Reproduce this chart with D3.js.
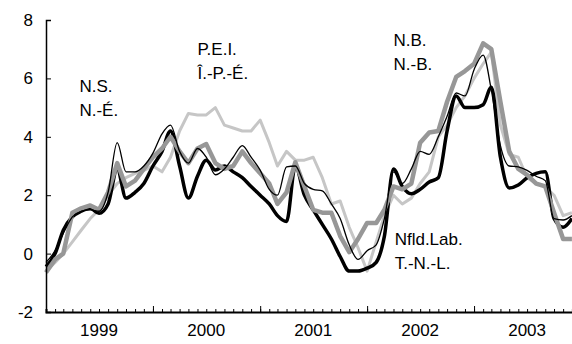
<!DOCTYPE html>
<html>
<head>
<meta charset="utf-8">
<script src="https://cdn.jsdelivr.net/npm/d3@7"></script>
<style>
  body { margin: 0; background: #fff; }
  text { font-family: "Liberation Sans", Arial, sans-serif; fill: #000; }
</style>
</head>
<body>
<div id="chart"></div>
<script>
// monthly values, Jan 1999 .. Dec 2003
var nfld = [-0.45, 0.0, 0.8, 1.26, 1.45, 1.55, 1.38, 1.7, 2.9, 1.9, 2.1, 2.4,
            3.0, 3.5, 4.2, 3.0, 1.9, 2.65, 3.2, 2.86, 3.0, 2.8, 2.6, 2.3,
            2.0, 1.7, 1.3, 1.1, 3.0, 2.0, 1.5, 1.0, 0.5, -0.1, -0.6, -0.6,
            -0.5, -0.3, 0.6, 2.9, 2.3, 2.05, 2.2, 2.45, 2.6, 4.2, 5.4, 5.0,
            5.0, 5.1, 5.7, 3.3, 2.25, 2.35, 2.6, 2.75, 2.8, 1.2, 0.9, 1.2];
var ns = [-0.3, 0.1, 0.7, 1.26, 1.45, 1.5, 1.45, 2.1, 3.8, 2.8, 2.8, 3.0,
          3.44, 4.1, 4.4, 3.5, 3.1, 3.6, 3.3, 2.7, 2.9, 3.3, 3.7, 3.3,
          2.86, 2.2, 2.0, 2.97, 3.0, 2.4, 2.2, 2.15, 1.7, 1.2, 0.3, -0.2,
          0.1, 0.3, 1.2, 2.8, 2.4, 2.9, 3.5, 3.4, 4.0, 4.7, 5.5, 5.4,
          6.3, 6.8, 5.6, 3.7, 3.0, 2.97, 2.85, 2.65, 2.5, 1.2, 1.15, 1.3];
var pei = [-0.6, -0.3, 0.0, 0.4, 0.8, 1.2, 1.5, 2.0, 2.4, 2.6, 2.75, 2.85,
           3.0, 2.8, 3.3, 4.2, 4.8, 4.75, 4.75, 5.0, 4.4, 4.3, 4.2, 4.2,
           4.57, 3.8, 3.0, 3.5, 3.2, 3.2, 3.3, 2.6, 1.7, 1.8, 0.9, 0.2,
           -0.6, 0.4, 1.3, 2.0, 1.7, 1.9, 2.4, 2.8, 4.0, 4.4, 5.0, 5.4,
           6.0, 6.5, 6.9, 4.4, 3.4, 3.3, 2.6, 2.4, 2.3, 2.0, 1.3, 1.4];
var nb = [-0.65, -0.2, 0.0, 1.4, 1.55, 1.65, 1.5, 2.1, 3.1, 2.3, 2.5, 2.9,
          3.3, 3.6, 4.0, 3.5, 3.1, 3.6, 3.75, 3.1, 2.9, 3.0, 3.5, 3.1,
          2.75, 2.4, 1.7, 2.1, 3.13, 2.3, 1.5, 1.4, 1.4, 0.6, 0.05, 0.5,
          1.05, 1.05, 1.5, 2.3, 2.2, 2.4, 3.8, 4.15, 4.2, 5.2, 6.05, 6.25,
          6.5, 7.2, 7.0, 5.2, 3.5, 2.9, 2.7, 2.4, 2.3, 1.4, 0.5, 0.5];

var years = [1999, 2000, 2001, 2002, 2003];
var yTicks = [-2, 0, 2, 4, 6, 8];

var labels = [
  {lines: ["N.S.", "N.-É."], date: new Date(1999, 3, 25), value: 5.55},
  {lines: ["P.E.I.", "Î.-P.-É."], date: new Date(2000, 5, 1), value: 6.8},
  {lines: ["N.B.", "N.-B."], date: new Date(2002, 3, 1), value: 7.1},
  {lines: ["Nfld.Lab.", "T.-N.-L."], date: new Date(2002, 3, 5), value: 0.3}
];

var width = 572, height = 344;
var margin = {top: 20, left: 46, bottom: 32};

var x = d3.scaleTime()
    .domain([new Date(1999, 0, 1), new Date(2004, 0, 1)])
    .range([margin.left, margin.left + 535]);
var y = d3.scaleLinear().domain([-2, 8]).range([height - margin.bottom, margin.top]);

var svg = d3.select("#chart").append("svg")
    .attr("width", width)
    .attr("height", height);

function toPoints(arr) {
  return arr.map(function(v, i) { return {date: new Date(1999, i, 1), value: v}; });
}

var series = [
  {name: "pei", data: toPoints(pei), color: "#c6c6c6", w: 3, smooth: false},
  {name: "nfld", data: toPoints(nfld), color: "#000", w: 3.5, smooth: true},
  {name: "nb", data: toPoints(nb), color: "#979797", w: 4.5, smooth: false},
  {name: "ns", data: toPoints(ns), color: "#000", w: 1.3, smooth: true}
];

var line = d3.line()
    .x(function(d) { return x(d.date); })
    .y(function(d) { return y(d.value); });
var smoothLine = d3.line()
    .curve(d3.curveMonotoneX)
    .x(function(d) { return x(d.date); })
    .y(function(d) { return y(d.value); });

svg.selectAll(".series")
  .data(series)
  .enter().append("path")
    .attr("class", "series")
    .attr("d", function(d) { return d.smooth ? smoothLine(d.data) : line(d.data); })
    .attr("fill", "none")
    .attr("stroke", function(d) { return d.color; })
    .attr("stroke-width", function(d) { return d.w; })
    .attr("stroke-linejoin", "round");

// y axis
var yAxis = svg.append("g")
    .attr("transform", "translate(" + margin.left + ",0)")
    .call(d3.axisLeft(y).tickValues(yTicks).tickSize(-5).tickPadding(13)
      .tickFormat(function(d) { return String(d); }));
yAxis.select(".domain").attr("stroke-width", 1.5);
yAxis.selectAll("text").style("font-size", "17px").attr("font-family", null);

// x axis: monthly minor ticks, yearly major ticks
var xMinor = svg.append("g")
    .attr("transform", "translate(0," + y(-2) + ")")
    .call(d3.axisBottom(x).ticks(d3.timeMonth.every(1)).tickSize(-3).tickFormat(""));
xMinor.select(".domain").attr("stroke-width", 2);

svg.append("g")
    .attr("transform", "translate(0," + y(-2) + ")")
    .call(d3.axisBottom(x).ticks(d3.timeYear.every(1)).tickSize(-6).tickFormat(""))
    .select(".domain").remove();

svg.selectAll(".year")
  .data(years)
  .enter().append("text")
    .attr("class", "year")
    .attr("x", function(d) { return x(new Date(d, 6, 1)); })
    .attr("y", 336)
    .attr("text-anchor", "middle")
    .style("font-size", "17px")
    .text(function(d) { return d; });

// province labels
labels.forEach(function(l) {
  l.lines.forEach(function(t, i) {
    svg.append("text")
      .attr("x", x(l.date))
      .attr("y", y(l.value) + i * 24)
      .style("font-size", "17px")
      .text(t);
  });
});
</script>
</body>
</html>
